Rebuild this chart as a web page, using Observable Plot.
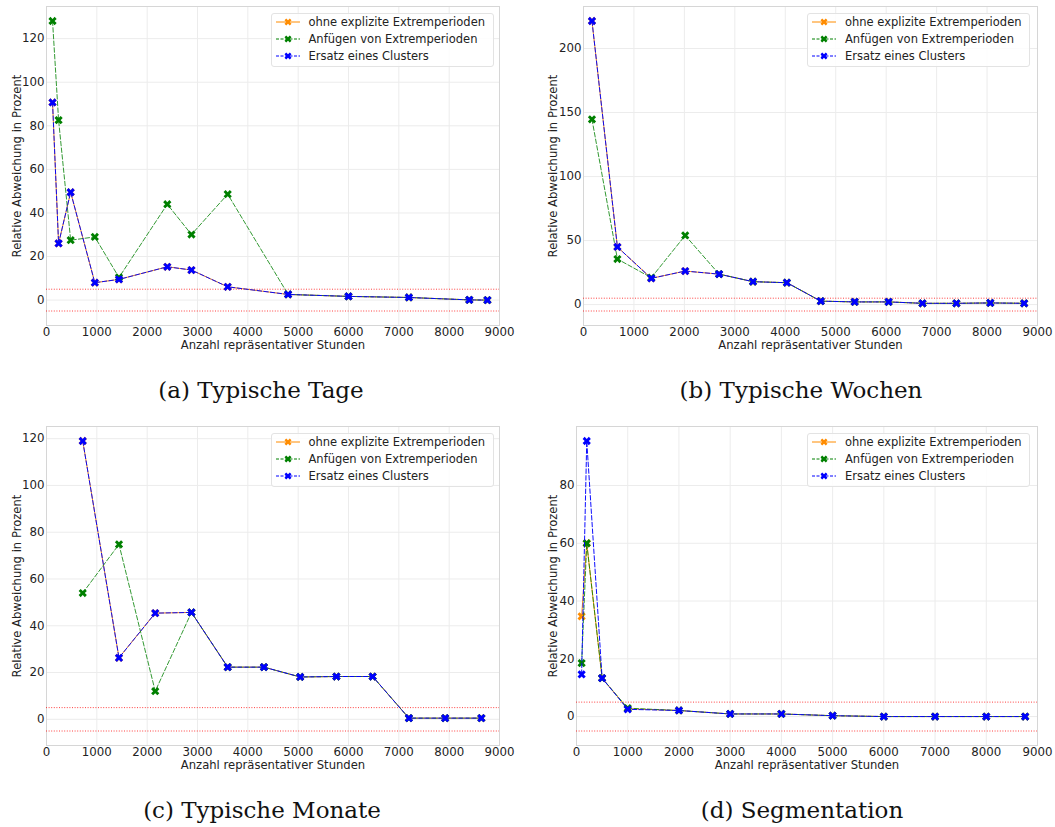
<!DOCTYPE html>
<html>
<head>
<meta charset="utf-8">
<script src="https://cdn.jsdelivr.net/npm/d3@7"></script>
<script src="https://cdn.jsdelivr.net/npm/@observablehq/plot@0.6"></script>
<style>
  html, body { margin: 0; padding: 0; background: #fff; }
  #root { position: relative; width: 1055px; height: 827px; overflow: hidden; font-family: "DejaVu Sans", sans-serif; color: #222; }
  .panel { position: absolute; }
  .legend { position: absolute; box-sizing: border-box; border: 1px solid #e3e3e3; border-radius: 3px; background: rgba(255,255,255,0.85); }
  .legend .row { position: absolute; left: 0; height: 16px; display: flex; align-items: center; font-size: 11.5px; white-space: nowrap; color: #222; }
  .legend svg { display: block; margin-left: 4px; margin-right: 9px; }
</style>
</head>
<body>
<div id="root"></div>
<script>
// ---------- data ----------
const seriesNames = ["ohne explizite Extremperioden", "Anfügen von Extremperioden", "Ersatz eines Clusters"];
const xTickValues = [0, 1000, 2000, 3000, 4000, 5000, 6000, 7000, 8000, 9000];

// (a) Typische Tage
const tageX        = [120, 240, 480, 960, 1440, 2400, 2880, 3600, 4800, 6000, 7200, 8400, 8760];
const tageOhne     = [90.7, 26.0, 49.5, 8.0, 9.5, 15.3, 13.8, 6.1, 2.6, 1.7, 1.2, 0.1, 0.0];
const tageAnfuegen = [128.1, 82.6, 27.5, 29.0, 10.4, 44.0, 30.1, 48.6, 2.6, 1.7, 1.2, 0.1, 0.0];
const tageErsatz   = [90.7, 26.0, 49.5, 8.0, 9.5, 15.3, 13.8, 6.1, 2.6, 1.7, 1.2, 0.1, 0.0];
const tageYTicks   = [0, 20, 40, 60, 80, 100, 120];

// (b) Typische Wochen
const wochenX        = [168, 672, 1344, 2016, 2688, 3360, 4032, 4704, 5376, 6048, 6720, 7392, 8064, 8736];
const wochenOhne     = [221.5, 45.0, 20.5, 26.2, 23.8, 17.9, 17.1, 2.7, 2.1, 2.1, 1.0, 1.0, 1.3, 1.0];
const wochenAnfuegen = [144.7, 35.6, 21.0, 54.0, 23.8, 17.9, 17.1, 2.7, 2.1, 2.1, 1.0, 1.0, 1.3, 1.0];
const wochenErsatz   = [221.5, 45.0, 20.5, 26.2, 23.8, 17.9, 17.1, 2.7, 2.1, 2.1, 1.0, 1.0, 1.3, 1.0];
const wochenYTicks   = [0, 50, 100, 150, 200];

// (c) Typische Monate
const monateX        = [720, 1440, 2160, 2880, 3600, 4320, 5040, 5760, 6480, 7200, 7920, 8640];
const monateOhne     = [119.0, 26.3, 45.4, 45.7, 22.3, 22.3, 18.1, 18.3, 18.3, 0.5, 0.5, 0.5];
const monateAnfuegen = [54.0, 74.8, 12.0, 45.7, 22.3, 22.3, 18.1, 18.3, 18.3, 0.5, 0.5, 0.5];
const monateErsatz   = [119.0, 26.3, 45.4, 45.7, 22.3, 22.3, 18.1, 18.3, 18.3, 0.5, 0.5, 0.5];
const monateYTicks   = [0, 20, 40, 60, 80, 100, 120];

// (d) Segmentation
const segX        = [100, 200, 500, 1000, 2000, 3000, 4000, 5000, 6000, 7000, 8000, 8760];
const segOhne     = [34.7, 60.0, 13.3, 2.7, 2.1, 0.9, 0.9, 0.3, 0.0, 0.0, 0.0, 0.0];
const segAnfuegen = [18.5, 60.0, 13.3, 2.9, 2.1, 0.9, 0.9, 0.3, 0.0, 0.0, 0.0, 0.0];
const segErsatz   = [14.6, 95.4, 13.3, 2.5, 2.1, 0.9, 0.9, 0.3, 0.0, 0.0, 0.0, 0.0];
const segYTicks   = [0, 20, 40, 60, 80];

const toleranceLines = [5, -5];
const captions = ["(a) Typische Tage", "(b) Typische Wochen", "(c) Typische Monate", "(d) Segmentation"];
const xLabel = "Anzahl repräsentativer Stunden";
const yLabel = "Relative Abweichung in Prozent";

// ---------- styling ----------
const colors = ["#ff8c00", "#008000", "#0000ff"];
const dashes = [null, "4.5,2.2", "4.5,2.2"];
const FS = 11.8;

const filledX = {
  draw(context, size) {
    const r = Math.sqrt(size / Math.PI);
    const L = r * 1.1, t = r * 0.36, c = Math.SQRT1_2;
    const pts = [[-t,-L],[t,-L],[t,-t],[L,-t],[L,t],[t,t],[t,L],[-t,L],[-t,t],[-L,t],[-L,-t],[-t,-t]];
    pts.forEach(([x, y], i) => {
      const X = (x - y) * c, Y = (x + y) * c;
      i ? context.lineTo(X, Y) : context.moveTo(X, Y);
    });
    context.closePath();
  }
};

const root = document.getElementById("root");

function panel(cfg) {
  const {xs, ys, yTicks, left, top, width, mL, mR, yLabelX, legendRight} = cfg;
  const height = 360, mT = 6, mB = 35;
  const lo = -5, hi = d3.max(ys.flat());
  const pad = 0.05 * (hi - lo);
  const rows = xs.map((x, i) => ({x, ohne: ys[0][i], anf: ys[1][i], ers: ys[2][i]}));
  const keys = ["ohne", "anf", "ers"];

  const marks = [
    Plot.gridX(xTickValues, {stroke: "#ececec", strokeOpacity: 1}),
    Plot.gridY(yTicks, {stroke: "#ececec", strokeOpacity: 1}),
    Plot.frame({stroke: "#d6d6d6"}),
    Plot.ruleY(toleranceLines, {stroke: "#ff0000", strokeOpacity: 0.75, strokeDasharray: "1,1.6", strokeWidth: 1}),
  ];
  keys.forEach((k, i) => {
    marks.push(Plot.line(rows, {x: "x", y: k, stroke: colors[i], strokeWidth: 1, strokeDasharray: dashes[i], strokeOpacity: i === 1 ? 0.8 : 0.95}));
    marks.push(Plot.dot(rows, {x: "x", y: k, symbol: filledX, r: 4, fill: colors[i], stroke: "none"}));
  });
  marks.push(
    Plot.axisX(xTickValues, {tickSize: 0, tickPadding: 2, tickFormat: "d", label: null, fontSize: FS, fill: "#222"}),
    Plot.axisY(yTicks, {tickSize: 0, tickPadding: 2, tickFormat: "d", label: null, fontSize: FS, fill: "#222"}),
    Plot.text([xLabel], {text: d => d, frameAnchor: "bottom", dy: 20, lineAnchor: "middle", textAnchor: "middle", fontSize: 11.6, fill: "#222"}),
    Plot.text([yLabel], {text: d => d, frameAnchor: "left", dx: yLabelX - mL, rotate: -90, lineAnchor: "middle", textAnchor: "middle", fontSize: 11.6, fill: "#222"})
  );

  const chart = Plot.plot({
    width, height,
    marginLeft: mL, marginRight: mR, marginTop: mT, marginBottom: mB,
    x: {domain: [0, 9000]},
    y: {domain: [lo - pad, hi + pad]},
    style: {fontFamily: "DejaVu Sans", fontSize: FS + "px", color: "#222", background: "transparent", overflow: "visible"},
    marks
  });
  const holder = document.createElement("div");
  holder.className = "panel";
  holder.style.left = left + "px";
  holder.style.top = top + "px";
  holder.appendChild(chart);
  root.appendChild(holder);

  // legend
  const lg = document.createElement("div");
  lg.className = "legend";
  const lgW = 223, lgH = 54;
  lg.style.left = (legendRight - lgW) + "px";
  lg.style.top = (top + 12.7) + "px";
  lg.style.width = lgW + "px";
  lg.style.height = lgH + "px";
  seriesNames.forEach((name, i) => {
    const row = document.createElement("div");
    row.className = "row";
    row.style.top = (9 + i * 17.3 - 8 - 1) + "px";
    const ns = "http://www.w3.org/2000/svg";
    const s = document.createElementNS(ns, "svg");
    s.setAttribute("width", 24); s.setAttribute("height", 16);
    const ln = document.createElementNS(ns, "line");
    ln.setAttribute("x1", 0); ln.setAttribute("x2", 24); ln.setAttribute("y1", 8); ln.setAttribute("y2", 8);
    ln.setAttribute("stroke", colors[i]); ln.setAttribute("stroke-width", 1);
    if (dashes[i]) ln.setAttribute("stroke-dasharray", "3,1.5");
    s.appendChild(ln);
    const p = document.createElementNS(ns, "path");
    const r = 3.4, L = r * 1.1, t = r * 0.36, c = Math.SQRT1_2;
    const pts = [[-t,-L],[t,-L],[t,-t],[L,-t],[L,t],[t,t],[t,L],[-t,L],[-t,t],[-L,t],[-L,-t],[-t,-t]]
      .map(([x, y]) => [12 + (x - y) * c, 8 + (x + y) * c]);
    p.setAttribute("d", "M" + pts.map(q => q.join(",")).join("L") + "Z");
    p.setAttribute("fill", colors[i]);
    s.appendChild(p);
    row.appendChild(s);
    const tx = document.createElement("span");
    tx.textContent = name;
    row.appendChild(tx);
    lg.appendChild(row);
  });
  root.appendChild(lg);
}

panel({xs: tageX, ys: [tageOhne, tageAnfuegen, tageErsatz], yTicks: tageYTicks,
  left: 0, top: 0, width: 520, mL: 46, mR: 21, yLabelX: 16.5, legendRight: 493.5});
panel({xs: wochenX, ys: [wochenOhne, wochenAnfuegen, wochenErsatz], yTicks: wochenYTicks,
  left: 527, top: 0, width: 528, mL: 56, mR: 18, yLabelX: 552.5 - 527, legendRight: 1030});
panel({xs: monateX, ys: [monateOhne, monateAnfuegen, monateErsatz], yTicks: monateYTicks,
  left: 0, top: 420, width: 520, mL: 46, mR: 21, yLabelX: 16.5, legendRight: 493.5});
panel({xs: segX, ys: [segOhne, segAnfuegen, segErsatz], yTicks: segYTicks,
  left: 527, top: 420, width: 528, mL: 49, mR: 18, yLabelX: 552.5 - 527, legendRight: 1030});

// captions
const capSvg = d3.select(root).append("svg")
  .attr("width", 1055).attr("height", 827)
  .style("position", "absolute").style("left", 0).style("top", 0).style("pointer-events", "none");
const capPos = [[261, 398], [801, 398], [262, 818], [802, 818]];
capSvg.selectAll("text").data(captions).join("text")
  .attr("x", (d, i) => capPos[i][0]).attr("y", (d, i) => capPos[i][1])
  .attr("text-anchor", "middle")
  .attr("font-family", "DejaVu Serif, serif")
  .attr("font-size", 23)
  .attr("fill", "#111")
  .text(d => d);
</script>
</body>
</html>
